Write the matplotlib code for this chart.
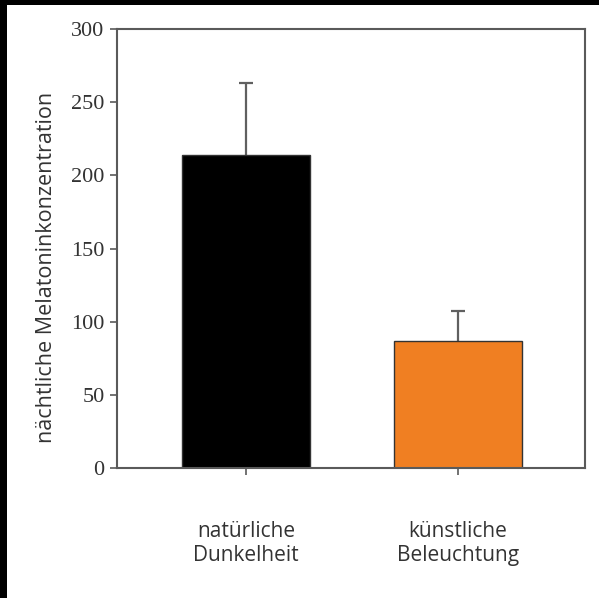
import matplotlib
matplotlib.use("Agg")
import matplotlib.pyplot as plt
from matplotlib.patches import Rectangle

categories = ["natürliche\nDunkelheit", "künstliche\nBeleuchtung"]
values = [214, 87]
errors_up = [49, 20]
colors = ["#000000", "#F07F22"]
yticks = [0, 50, 100, 150, 200, 250, 300]
ylabel = "nächtliche Melatoninkonzentration"

W, H = 599, 598
fig = plt.figure(figsize=(W / 100, H / 100), dpi=100, facecolor="white")

# black frame bands on the left and top edges
fig.patches.append(Rectangle((0, 0), 7 / W, 1, transform=fig.transFigure,
                             facecolor="black", edgecolor="none", zorder=0))
fig.patches.append(Rectangle((0, 1 - 5 / H), 1, 5 / H, transform=fig.transFigure,
                             facecolor="black", edgecolor="none", zorder=0))

ax = fig.add_axes([117 / W, 130 / H, 468 / W, 439 / H])
x = list(range(len(categories)))
spine_c = "#5a5a5a"
bar_w = 0.605
ax.bar(x, values, width=bar_w, color=colors, edgecolor="#333333", linewidth=1.0, zorder=2)
tops = [v + e for v, e in zip(values, errors_up)]
ax.vlines(x, values, tops, color="#606060", linewidth=1.6, zorder=1)
cap = 0.035
ax.hlines(tops, [xi - cap for xi in x], [xi + cap for xi in x],
          color="#606060", linewidth=1.6, zorder=1)

ax.set_xlim(-0.608, 1.599)
ax.set_ylim(0, 300)
ax.set_yticks(yticks)
ax.set_yticklabels([str(t) for t in yticks], fontfamily="Liberation Serif",
                   fontsize=16, color="#333333")
ax.set_xticks(x)
ax.set_xticklabels(categories, fontfamily="Open Sans", fontsize=15,
                   color="#333333", linespacing=1.2)
ax.tick_params(axis="x", length=5, width=1.2, color=spine_c, pad=33)
ax.tick_params(axis="y", length=5, width=1.2, color=spine_c, pad=4)
for s in ax.spines.values():
    s.set_color(spine_c)
    s.set_linewidth(1.5)

ax.set_ylabel(ylabel, fontfamily="Open Sans", fontsize=15.5, color="#333333")
ax.yaxis.set_label_coords(-0.128, 0.456)

fig.savefig("out.png", dpi=100, facecolor="white")
